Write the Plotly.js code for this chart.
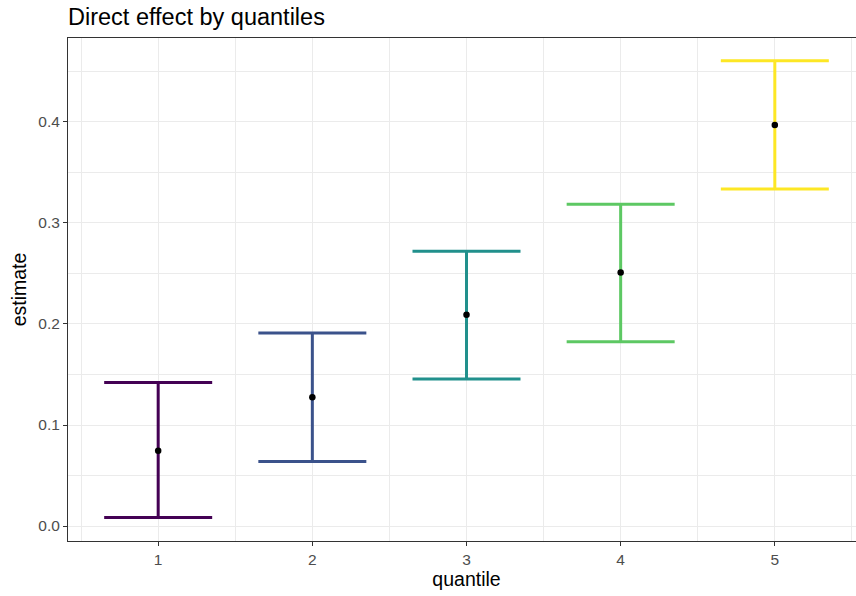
<!DOCTYPE html>
<html>
<head>
<meta charset="utf-8">
<script src="https://cdn.plot.ly/plotly-3.0.1.min.js"></script>
<style>
html,body{margin:0;padding:0;overflow:hidden;background:#fff;}
#chart{width:866px;height:596px;}
</style>
</head>
<body>
<div id="chart"></div>
<script>
const quantiles = [1, 2, 3, 4, 5];
const estimate = [0.0745, 0.1275, 0.2090, 0.2510, 0.3970];
const lower = [0.0085, 0.0640, 0.1455, 0.1825, 0.3335];
const upper = [0.1420, 0.1910, 0.2720, 0.3185, 0.4605];
const colors = ['#440154', '#3B528B', '#21908C', '#5DC863', '#FDE725'];
const xTickLabels = ['1', '2', '3', '4', '5'];
const yTickVals = [0, 0.1, 0.2, 0.3, 0.4];
const yTickLabels = ['0.0', '0.1', '0.2', '0.3', '0.4'];

const traces = quantiles.map((q, i) => ({
  type: 'scatter',
  mode: 'markers',
  x: [q],
  y: [estimate[i]],
  marker: {color: '#000000', size: 6.5},
  error_y: {
    type: 'data',
    symmetric: false,
    array: [upper[i] - estimate[i]],
    arrayminus: [estimate[i] - lower[i]],
    color: colors[i],
    thickness: 3,
    width: 54
  },
  showlegend: false,
  hoverinfo: 'x+y'
}));

const layout = {
  width: 866,
  height: 596,
  margin: {l: 68, r: 1, t: 38, b: 55},
  paper_bgcolor: '#ffffff',
  plot_bgcolor: '#ffffff',
  font: {family: 'Liberation Sans, Arial, sans-serif', color: '#000000'},
  title: {
    text: 'Direct effect by quantiles',
    font: {size: 23.5, color: '#000000'},
    x: 0, xanchor: 'left', xref: 'paper',
    y: 1 - 17 / 596, yanchor: 'middle', yref: 'container'
  },
  xaxis: {
    range: [0.415, 5.585],
    tickmode: 'array',
    tickvals: quantiles,
    ticktext: xTickLabels,
    ticks: 'outside', ticklen: 4, tickwidth: 1, tickcolor: '#333333',
    tickfont: {size: 15.5, color: '#4D4D4D'},
    showgrid: true, gridcolor: '#EBEBEB', gridwidth: 1,
    minor: {dtick: 0.5, tick0: 0.5, showgrid: true, gridcolor: '#EBEBEB', gridwidth: 1, ticks: ''},
    zeroline: false,
    showline: true, linecolor: '#333333', linewidth: 1, mirror: true,
    title: {text: 'quantile', font: {size: 19.5, color: '#000000'}, standoff: 4}
  },
  yaxis: {
    range: [-0.0148, 0.483],
    tickmode: 'array',
    tickvals: yTickVals,
    ticktext: yTickLabels,
    ticks: 'outside', ticklen: 4, tickwidth: 1, tickcolor: '#333333',
    tickfont: {size: 15.5, color: '#4D4D4D'},
    showgrid: true, gridcolor: '#EBEBEB', gridwidth: 1,
    minor: {dtick: 0.05, tick0: 0, showgrid: true, gridcolor: '#EBEBEB', gridwidth: 1, ticks: ''},
    zeroline: false,
    showline: true, linecolor: '#333333', linewidth: 1, mirror: true,
    title: {text: 'estimate', font: {size: 19.5, color: '#000000'}, standoff: 6}
  }
};

Plotly.newPlot('chart', traces, layout, {displayModeBar: false, staticPlot: true});
</script>
</body>
</html>
